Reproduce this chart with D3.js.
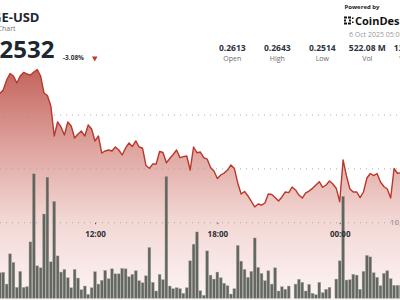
<!DOCTYPE html>
<html>
<head>
<meta charset="utf-8">
<script src="https://cdn.jsdelivr.net/npm/d3@7"></script>
<style>
body { margin: 0; background: #fff; overflow: hidden; }
svg { display: block; font-family: "Open Sans", sans-serif; }
</style>
</head>
<body>
<svg width="400" height="300"></svg>
<script>
// 10-minute candles, first one at 07:20 on 5 Oct
var firstTime = new Date(2025, 9, 5, 7, 20);
var price = [
  0.26200, 0.26232, 0.26325, 0.26385, 0.26362, 0.26297, 0.26362, 0.26395, 0.26381, 0.26371,
  0.26399, 0.26422, 0.26362, 0.26204, 0.26181, 0.26084, 0.25805, 0.25935, 0.25889, 0.25814,
  0.25935, 0.25898, 0.25786, 0.25824, 0.25851, 0.25805, 0.25907, 0.25870,
  0.25759, 0.25805, 0.25647, 0.25666, 0.25675, 0.25666, 0.25703, 0.25675, 0.25629, 0.25694, 0.25740, 0.25708,
  0.25759, 0.25703, 0.25691, 0.25531, 0.25505, 0.25545, 0.25545, 0.25661, 0.25652, 0.25557, 0.25596, 0.25633,
  0.25675, 0.25604, 0.25613, 0.25619, 0.25489, 0.25703, 0.25650, 0.25656, 0.25605, 0.25591, 0.25513, 0.25480,
  0.25410, 0.25443, 0.25461, 0.25489, 0.25536, 0.25503, 0.25369, 0.25266, 0.25290, 0.25248, 0.25197, 0.25146,
  0.25174, 0.25164, 0.25183, 0.25266, 0.25262, 0.25234, 0.25201, 0.25239, 0.25285, 0.25279, 0.25331, 0.25304,
  0.25257, 0.25229, 0.25276, 0.25294, 0.25319, 0.25350, 0.25381, 0.25329, 0.25350, 0.25387, 0.25359, 0.25318,
  0.25195, 0.25582, 0.25434, 0.25313, 0.25285, 0.25285, 0.25232, 0.25285, 0.25415, 0.25457, 0.25438, 0.25457,
  0.25378, 0.25336, 0.25313, 0.25229, 0.25503, 0.25459, 0.25464
];
// volume in millions
var volume = [
  3.36, 3.41, 1.87, 5.85, 4.72, 1.44, 3.54, 1.44, 1.52, 7.42, 16.38, 4.27, 4.01, 11.09,
  15.94, 4.80, 12.75, 5.58, 3.45, 3.80, 2.70, 1.39, 3.80, 2.66, 1.13, 1.61, 0.52, 1.39,
  3.49, 1.87, 2.36, 3.67, 2.57, 3.88, 3.22, 3.22, 3.93, 3.88, 2.83, 3.15,
  3.62, 2.31, 2.04, 2.96, 6.68, 2.10, 0.96, 3.15, 2.44, 16.03, 1.61, 1.26,
  1.39, 1.26, 0.66, 1.39, 4.93, 7.12, 8.73, 1.00, 0.39, 6.24, 3.05, 2.53,
  3.45, 2.70, 1.97, 1.65, 0.56, 1.26, 6.95, 4.89, 3.80, 2.75, 3.54, 7.94,
  4.06, 3.28, 2.31, 3.62, 1.87, 4.01, 0.96, 1.52, 1.18, 1.61, 0, 1.87,
  2.49, 2.10, 0.96, 1.83, 0.66, 0.47, 2.10, 0.73, 1.18, 1.44, 0, 2.53,
  4.93, 13.41, 2.40, 2.44, 3.15, 3.05, 1.18, 3.54, 5.64, 5.45, 3.36, 2.75,
  1.65, 3.28, 3.62, 2.57, 1.70, 1.70, 1.70
];
var tickTimes = [new Date(2025, 9, 5, 12, 0), new Date(2025, 9, 5, 18, 0), new Date(2025, 9, 6, 0, 0)];
var priceGrid = [0.250, 0.255, 0.260];
var volumeTicks = [10];
var statValues = ["0.2613", "0.2643", "0.2514", "522.08 M", "132.66 M"];
var statLabels = ["Open", "High", "Low", "Vol", "Vol USD"];

var svg = d3.select("svg");

var data = price.map(function(p, i) {
  return {time: d3.timeMinute.offset(firstTime, i * 10), price: p, vol: volume[i]};
});

var x = d3.scaleTime()
    .domain([tickTimes[0], tickTimes[2]])
    .range([95, 339.7]);

var y = d3.scaleLinear()
    .domain([0.250, 0.260])
    .range([222.7, 115]);

var yVol = d3.scaleLinear()
    .domain([0, 10])
    .range([298.3, 222.3]);

var defs = svg.append("defs");
var grad = defs.append("linearGradient")
    .attr("id", "fade")
    .attr("gradientUnits", "userSpaceOnUse")
    .attr("x1", 0).attr("x2", 0)
    .attr("y1", 66).attr("y2", 300);
grad.append("stop").attr("offset", "0%").attr("stop-color", "#c2625a");
grad.append("stop").attr("offset", "35%").attr("stop-color", "#dfa49f");
grad.append("stop").attr("offset", "65%").attr("stop-color", "#f2d6d3");
grad.append("stop").attr("offset", "100%").attr("stop-color", "#fdf5f4");

var area = d3.area()
    .x(function(d) { return x(d.time); })
    .y0(300)
    .y1(function(d) { return y(d.price); });

var line = d3.line()
    .x(function(d) { return x(d.time); })
    .y(function(d) { return y(d.price); });

svg.append("path")
  .datum(data)
  .attr("fill", "url(#fade)")
  .attr("d", area);

svg.append("g")
  .selectAll("line")
  .data(priceGrid)
  .enter().append("line")
  .attr("x1", 0)
  .attr("x2", 400)
  .attr("y1", function(d) { return y(d); })
  .attr("y2", function(d) { return y(d); })
  .attr("stroke", "#a9a9a9")
  .attr("stroke-width", 1)
  .attr("stroke-dasharray", "1,5");

var barW = 2.8;
svg.append("g")
  .selectAll("rect")
  .data(data)
  .enter().append("rect")
  .attr("x", function(d) { return x(d.time) - barW / 2; })
  .attr("y", function(d) { return yVol(d.vol); })
  .attr("width", barW)
  .attr("height", function(d) { return yVol(0) - yVol(d.vol); })
  .attr("fill", "#585d55")
  .attr("stroke", "#9fa39d")
  .attr("stroke-width", 0.4)
  .attr("opacity", 0.93);

var xAxis = svg.append("g")
  .attr("transform", "translate(0," + y(0.250) + ")")
  .call(d3.axisBottom(x).tickValues(tickTimes).tickFormat(d3.timeFormat("%H:%M")).tickSize(1.5).tickPadding(7));
xAxis.select(".domain").remove();
xAxis.selectAll("line").attr("stroke", "#555");
xAxis.selectAll("text")
  .attr("fill", "#2b3038")
  .attr("font-size", 8)
  .attr("font-weight", "bold")
  .attr("font-family", "Open Sans, sans-serif");

svg.append("g")
  .selectAll("text")
  .data(volumeTicks)
  .enter().append("text")
  .attr("x", 390)
  .attr("y", function(d) { return yVol(d) + 3; })
  .attr("fill", "#8a8a8a")
  .attr("font-size", 8)
  .text(function(d) { return d3.format(",")(d * 1e6); });

svg.append("path")
  .datum(data)
  .attr("fill", "none")
  .attr("stroke", "#b9372b")
  .attr("stroke-width", 1.4)
  .attr("stroke-linejoin", "round")
  .attr("d", line);

// header
svg.append("text")
  .attr("x", 39.5).attr("y", 22)
  .attr("text-anchor", "end")
  .attr("font-size", 13)
  .attr("font-weight", "bold")
  .attr("fill", "#1d2633")
  .text("DOGE-USD");

svg.append("text")
  .attr("x", 15.5).attr("y", 31)
  .attr("text-anchor", "end")
  .attr("font-size", 7)
  .attr("fill", "#777")
  .text("Price Chart");

svg.append("text")
  .attr("x", 54.5).attr("y", 58)
  .attr("text-anchor", "end")
  .attr("font-size", 24)
  .attr("font-weight", "bold")
  .attr("fill", "#1d2633")
  .text("0.2532");

svg.append("text")
  .attr("x", 63).attr("y", 60)
  .attr("font-size", 6.5)
  .attr("font-weight", "bold")
  .attr("fill", "#333")
  .text("-3.08%");

svg.append("path")
  .attr("d", "M92,56.5L97.5,56.5L94.75,61.5Z")
  .attr("fill", "#c0392b");

var statX = d3.scalePoint()
    .domain(d3.range(statValues.length))
    .range([232.3, 412.3]);

var stat = svg.append("g")
  .selectAll("g")
  .data(statValues)
  .enter().append("g")
  .attr("transform", function(d, i) { return "translate(" + statX(i) + ",0)"; });

stat.append("text")
  .attr("y", 51)
  .attr("text-anchor", "middle")
  .attr("font-size", 8.5)
  .attr("font-weight", "bold")
  .attr("fill", "#2a3340")
  .text(function(d) { return d; });

stat.append("text")
  .attr("y", 61)
  .attr("text-anchor", "middle")
  .attr("font-size", 7)
  .attr("fill", "#6b6b6b")
  .text(function(d, i) { return statLabels[i]; });

svg.append("text")
  .attr("x", 344.5).attr("y", 9)
  .attr("font-size", 6)
  .attr("font-weight", "bold")
  .attr("fill", "#222")
  .text("Powered by");

var logo = svg.append("g").attr("transform", "translate(344,16.5)");
[[0,0,3,2],[4,0,3,2],[0,3,2,2],[5,3,2,2],[0,6,3,2],[4,6,3,2],[8,1,1.5,1.5],[8,5,1.5,1.5]].forEach(function(r) {
  logo.append("rect")
    .attr("x", r[0]).attr("y", r[1])
    .attr("width", r[2]).attr("height", r[3])
    .attr("fill", "#111");
});

svg.append("text")
  .attr("x", 355).attr("y", 25)
  .attr("font-size", 11)
  .attr("font-weight", "bold")
  .attr("fill", "#111")
  .text("CoinDesk");

svg.append("text")
  .attr("x", 349).attr("y", 37)
  .attr("font-size", 7)
  .attr("fill", "#999")
  .text("6 Oct 2025 05:00 UTC");
</script>
</body>
</html>
